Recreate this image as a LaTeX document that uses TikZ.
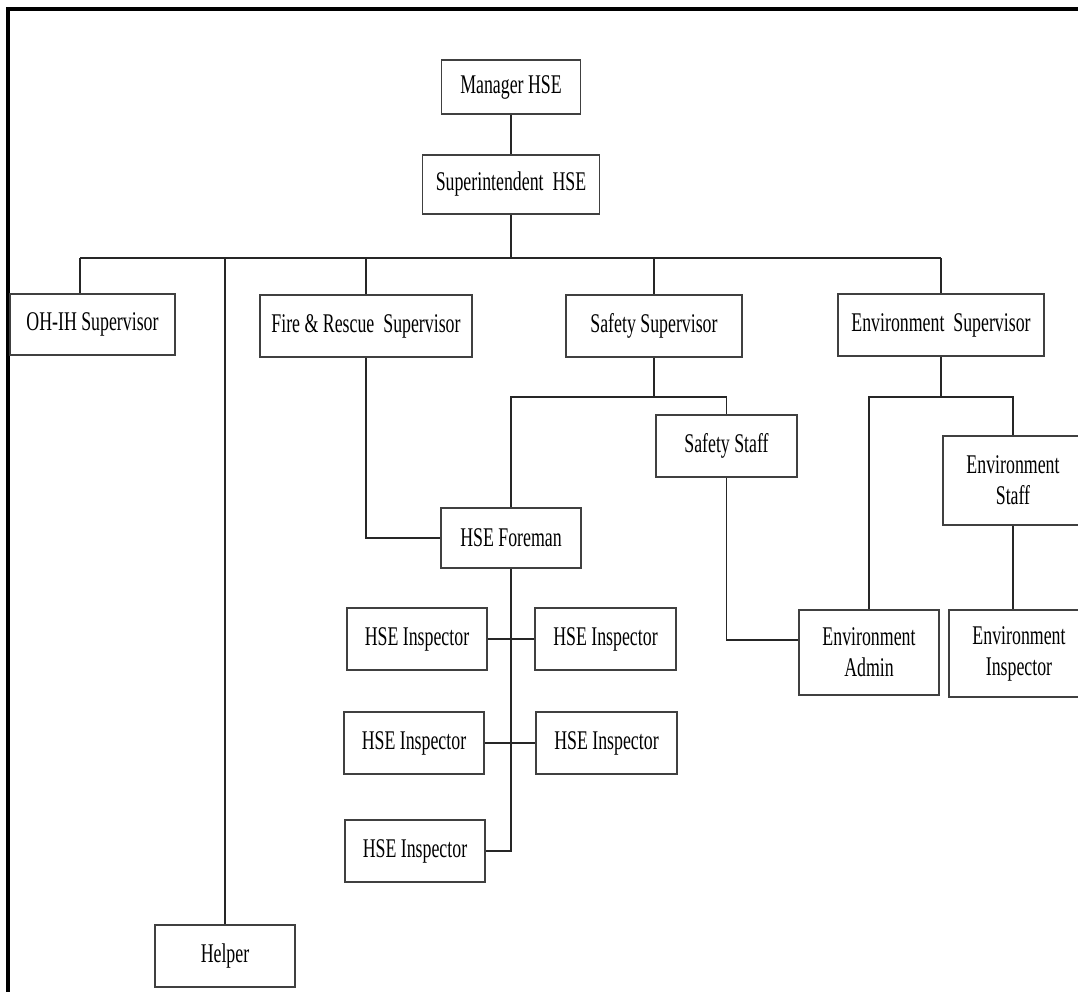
\documentclass[tikz,border=0pt]{standalone}
\usepackage{fontspec}
\setmainfont{Liberation Serif}[FakeStretch=0.66]
\begin{document}
\begin{tikzpicture}[x=1pt,y=-1pt,
  box/.style={draw=black!75,line width=1.8pt,fill=white,inner sep=0pt,align=center,
    font=\fontsize{27}{31}\selectfont},
  conn/.style={draw=black!85,line width=1.3pt}]
\useasboundingbox (0,0) rectangle (1078,992);
\fill[white] (0,0) rectangle (1078,992);
% frame
\draw[line width=4pt] (7.5,992) -- (7.5,9.5) -- (1078,9.5);
% nodes
\node[box,minimum width=139pt,minimum height=54pt] (mgr) at (511,87) {Manager HSE};
\node[box,minimum width=177pt,minimum height=59pt] (sup) at (511,184.5) {Superintendent\, HSE};
\node[box,minimum width=165pt,minimum height=61pt] (oh) at (92.5,324.5) {OH-IH Supervisor};
\node[box,minimum width=212pt,minimum height=62pt] (fire) at (366,326) {Fire \& Rescue\, Supervisor};
\node[box,minimum width=176pt,minimum height=62pt] (safe) at (654,326) {Safety Supervisor};
\node[box,minimum width=206pt,minimum height=62pt] (envs) at (941,325) {Environment\, Supervisor};
\node[box,minimum width=140pt,minimum height=62pt] (helper) at (225,956) {Helper};
\node[box,minimum width=140pt,minimum height=60pt] (fore) at (511,538) {HSE Foreman};
\node[box,minimum width=141pt,minimum height=62pt] (sstaff) at (726.5,446) {Safety Staff};
\node[box,minimum width=140pt,minimum height=85pt] (eadmin) at (869,652.5) {Environment\\Admin};
\node[box,minimum width=140pt,minimum height=89pt] (estaff) at (1013,480.5) {Environment\\Staff};
\node[box,minimum width=140pt,minimum height=87pt] (einsp) at (1019,653.5) {Environment\\Inspector};
\node[box,minimum width=140pt,minimum height=62pt] (i1) at (417,639) {HSE Inspector};
\node[box,minimum width=141pt,minimum height=62pt] (i2) at (605.5,639) {HSE Inspector};
\node[box,minimum width=140pt,minimum height=62pt] (i3) at (414,743) {HSE Inspector};
\node[box,minimum width=141pt,minimum height=62pt] (i4) at (606.5,743) {HSE Inspector};
\node[box,minimum width=140pt,minimum height=62pt] (i5) at (415,851) {HSE Inspector};
% bus coordinates
\coordinate (busL) at (80,258);
\coordinate (busR) at (941,258);
\coordinate (busC) at (sup.south |- busL);
\coordinate (sbus) at (safe.south |- 0,397);
\coordinate (ebus) at (envs.south |- 0,397);
% connectors
\draw[conn] (mgr.south) -- (sup.north);
\draw[conn] (sup.south) -- (busC);
\draw[conn] (busL) -- (busR);
\draw[conn] (busL) -- (busL |- oh.north);
\draw[conn] (helper.north) -- (helper.north |- busL);
\draw[conn] (fire.north) -- (fire.north |- busL);
\draw[conn] (safe.north) -- (safe.north |- busL);
\draw[conn] (envs.north) -- (envs.north |- busL);
\draw[conn] (fire.south) |- (fore.west);
\draw[conn] (safe.south) -- (sbus);
\draw[conn] (fore.north) |- (sbus) -| (sstaff.north);
\draw[conn] (sstaff.south) |- ([yshift=12.5pt]eadmin.west);
\draw[conn] (envs.south) -- (ebus);
\draw[conn] (eadmin.north) |- (ebus) -| (estaff.north);
\draw[conn] (estaff.south) -- (estaff.south |- einsp.north);
\draw[conn] (fore.south) |- (i5.east);
\draw[conn] (i1.east) -- (i2.west);
\draw[conn] (i3.east) -- (i4.west);
\end{tikzpicture}
\end{document}
